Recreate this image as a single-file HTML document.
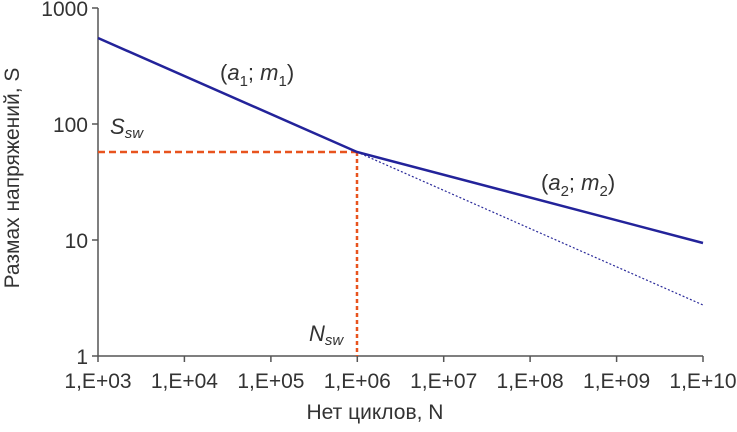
<!DOCTYPE html>
<html><head><meta charset="utf-8"><style>body{margin:0;background:#fff}</style></head><body>
<svg width="737" height="427" viewBox="0 0 737 427" xmlns="http://www.w3.org/2000/svg" font-family="Liberation Sans, sans-serif" fill="#333">
<g stroke="#555" stroke-width="1.5">
<line x1="98" y1="8" x2="98" y2="356"/>
<line x1="98" y1="356" x2="703" y2="356"/>
<line x1="92" y1="8" x2="98" y2="8"/><line x1="92" y1="124" x2="98" y2="124"/><line x1="92" y1="240" x2="98" y2="240"/><line x1="92" y1="356" x2="98" y2="356"/>
<line x1="98" y1="356" x2="98" y2="362"/><line x1="184.4" y1="356" x2="184.4" y2="362"/><line x1="270.9" y1="356" x2="270.9" y2="362"/><line x1="357.3" y1="356" x2="357.3" y2="362"/><line x1="443.7" y1="356" x2="443.7" y2="362"/><line x1="530.1" y1="356" x2="530.1" y2="362"/><line x1="616.6" y1="356" x2="616.6" y2="362"/><line x1="703" y1="356" x2="703" y2="362"/>
</g>
<g stroke="#e8531e" stroke-width="2.5" stroke-dasharray="7,4" fill="none">
<line x1="98" y1="152" x2="357" y2="152"/>
<line x1="357" y1="152" x2="357" y2="356" stroke-dasharray="4,3"/>
</g>
<line x1="357" y1="152" x2="703" y2="305" stroke="#2a2a9a" stroke-width="1.2" stroke-dasharray="2,2"/>
<polyline points="98,38 357,152 703,243" fill="none" stroke="#23239a" stroke-width="2.5"/>
<g font-size="21" text-anchor="end">
<text x="88" y="16">1000</text><text x="88" y="132">100</text><text x="88" y="248">10</text><text x="88" y="364">1</text>
</g>
<g font-size="21" text-anchor="middle">
<text x="98" y="388">1,E+03</text><text x="184.4" y="388">1,E+04</text><text x="270.9" y="388">1,E+05</text><text x="357.3" y="388">1,E+06</text><text x="443.7" y="388">1,E+07</text><text x="530.1" y="388">1,E+08</text><text x="616.6" y="388">1,E+09</text><text x="703" y="388">1,E+10</text>
<text x="375" y="419">Нет циклов, N</text>
</g>
<text transform="translate(19,178) rotate(-90)" font-size="21" text-anchor="middle">Размах напряжений, S</text>
<g font-size="22">
<text x="220" y="80">(<tspan font-style="italic">a</tspan><tspan font-size="15" dy="6">1</tspan><tspan dy="-6">; </tspan><tspan font-style="italic">m</tspan><tspan font-size="15" dy="6">1</tspan><tspan dy="-6">)</tspan></text>
<text x="541" y="190">(<tspan font-style="italic">a</tspan><tspan font-size="15" dy="6">2</tspan><tspan dy="-6">; </tspan><tspan font-style="italic">m</tspan><tspan font-size="15" dy="6">2</tspan><tspan dy="-6">)</tspan></text>
<text x="110" y="134" font-style="italic">S<tspan font-size="15" dy="4">sw</tspan></text>
<text x="309" y="341" font-style="italic">N<tspan font-size="15" dy="4">sw</tspan></text>
</g>
</svg>
</body></html>
